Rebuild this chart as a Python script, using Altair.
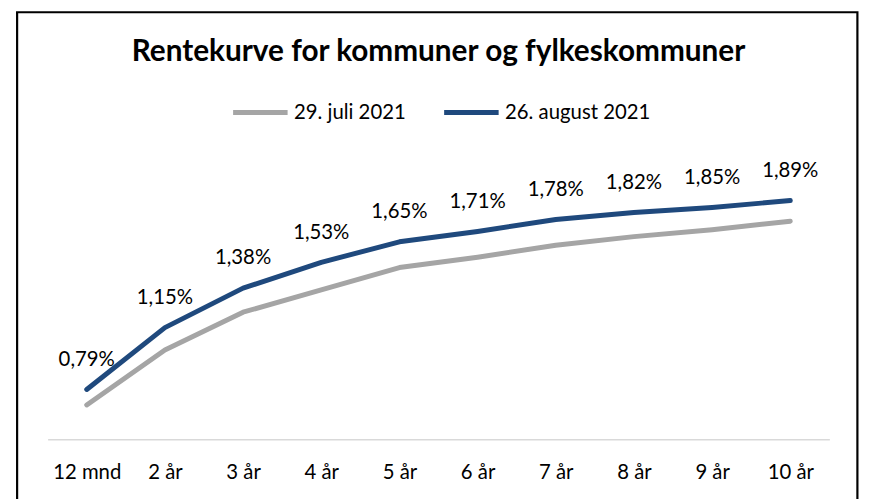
import altair as alt
import pandas as pd

categories = ["12 mnd", "2 år", "3 år", "4 år", "5 år", "6 år", "7 år", "8 år", "9 år", "10 år"]
series_names = ["29. juli 2021", "26. august 2021"]
juli = [0.70, 1.02, 1.24, 1.37, 1.50, 1.56, 1.63, 1.68, 1.72, 1.77]
august = [0.79, 1.15, 1.38, 1.53, 1.65, 1.71, 1.78, 1.82, 1.85, 1.89]
colors = ["#A5A5A5", "#1F497D"]

rows = []
for i, c in enumerate(categories):
    rows.append({"kat": c, "serie": series_names[0], "rente": juli[i], "order": i})
for i, c in enumerate(categories):
    rows.append({"kat": c, "serie": series_names[1], "rente": august[i], "order": i})
df = pd.DataFrame(rows)
df["label"] = df["rente"].map(lambda v: f"{v:.2f}".replace(".", ",") + "%")

FONT = "Lato"

x = alt.X("kat:N", sort=categories, title=None,
          scale=alt.Scale(type="point", padding=0.5),
          axis=alt.Axis(labelAngle=0, ticks=False, domainColor="#D9D9D9", domainWidth=1.5,
                        labelFont=FONT, labelFontSize=20.5, labelColor="#000000",
                        labelPadding=24, grid=False))
y = alt.Y("rente:Q", axis=None, scale=alt.Scale(domain=[0.5, 2.0], nice=False, zero=False))

lines = alt.Chart(df).mark_line(strokeWidth=5, strokeCap="round", strokeJoin="round").encode(
    x=x, y=y,
    color=alt.Color("serie:N", sort=series_names,
                    scale=alt.Scale(domain=series_names, range=colors),
                    legend=alt.Legend(title=None, orient="none", direction="horizontal",
                                      legendX=184.7, legendY=-100, padding=0,
                                      symbolType="stroke", symbolStrokeWidth=5, symbolSize=3025,
                                      labelFont=FONT, labelFontSize=20.5, labelColor="#000000",
                                      labelOffset=4, columnPadding=28)),
    order="order:Q",
)

labels = alt.Chart(df[df["serie"] == series_names[1]]).mark_text(
    baseline="alphabetic", dy=-24, font=FONT, fontSize=20.5, color="#000000"
).encode(x=x, y=y, text="label:N")

frame = alt.Chart(pd.DataFrame({"a": [0]})).mark_rect(
    fill="transparent", stroke="#000000", strokeWidth=2.2
).encode(x=alt.value(-30.8), x2=alt.value(817.3), y=alt.value(-171), y2=alt.value(400))

chart = alt.layer(lines, labels, frame).properties(
    width=789, height=260,
    autosize=alt.AutoSizeParams(type="none"),
    padding={"left": 40, "top": 173, "right": 39, "bottom": 58},
    title=alt.TitleParams("Rentekurve for kommuner og fylkeskommuner", font=FONT, fontSize=30,
                          fontWeight="bold", color="#000000", anchor="middle", offset=-56),
).configure_view(stroke=None)

chart.save("out.html", embed_options={"renderer": "svg", "actions": False})
